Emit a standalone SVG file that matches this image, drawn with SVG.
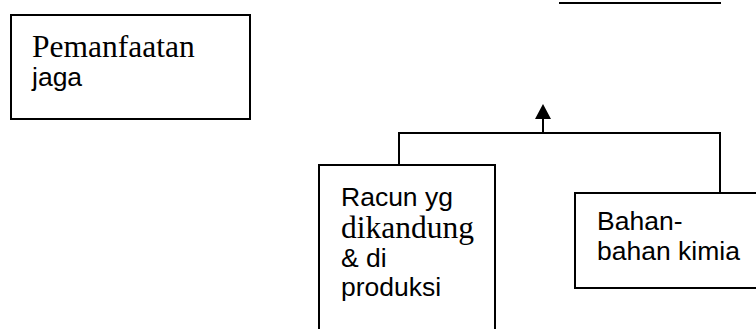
<svg xmlns="http://www.w3.org/2000/svg" width="756" height="329" viewBox="0 0 756 329">
  <style>
    .box { fill: #ffffff; stroke: #000000; stroke-width: 2; }
    .wire { fill: none; stroke: #000000; stroke-width: 2; }
    .serif { font-family: "Liberation Serif", "Times New Roman", serif; font-size: 31.5px; fill: #000000; }
    .sans { font-family: "Liberation Sans", Arial, sans-serif; font-size: 26.5px; fill: #000000; }
  </style>
  <defs>
    <marker id="arrowhead" markerWidth="16" markerHeight="15" refX="8" refY="15" orient="0" markerUnits="userSpaceOnUse">
      <path d="M0,15 L8,0 L16,15 Z" fill="#000000"/>
    </marker>
  </defs>
  <rect width="756" height="329" fill="#ffffff"/>

  <g id="connectors">
    <line class="wire" x1="559" y1="3" x2="721" y2="3"/>
    <polyline class="wire" points="399,165 399,133 720,133 720,196"/>
    <line class="wire" x1="543" y1="133" x2="543" y2="119" marker-end="url(#arrowhead)"/>
  </g>

  <g id="node-pemanfaatan">
    <rect class="box" x="11" y="15" width="239" height="104"/>
    <text class="serif" x="32" y="57">Pemanfaatan</text>
    <text class="sans" x="32" y="86">jaga</text>
  </g>

  <g id="node-racun">
    <rect class="box" x="319" y="165" width="176" height="180"/>
    <text class="sans" x="341" y="206">Racun yg</text>
    <text class="serif" x="341" y="238">dikandung</text>
    <text class="sans" x="341" y="267">&amp; di</text>
    <text class="sans" x="341" y="296">produksi</text>
  </g>

  <g id="node-bahan">
    <rect class="box" x="575" y="193" width="190" height="95"/>
    <text class="sans" x="597" y="230">Bahan-</text>
    <text class="sans" x="597" y="260">bahan kimia</text>
  </g>
</svg>
